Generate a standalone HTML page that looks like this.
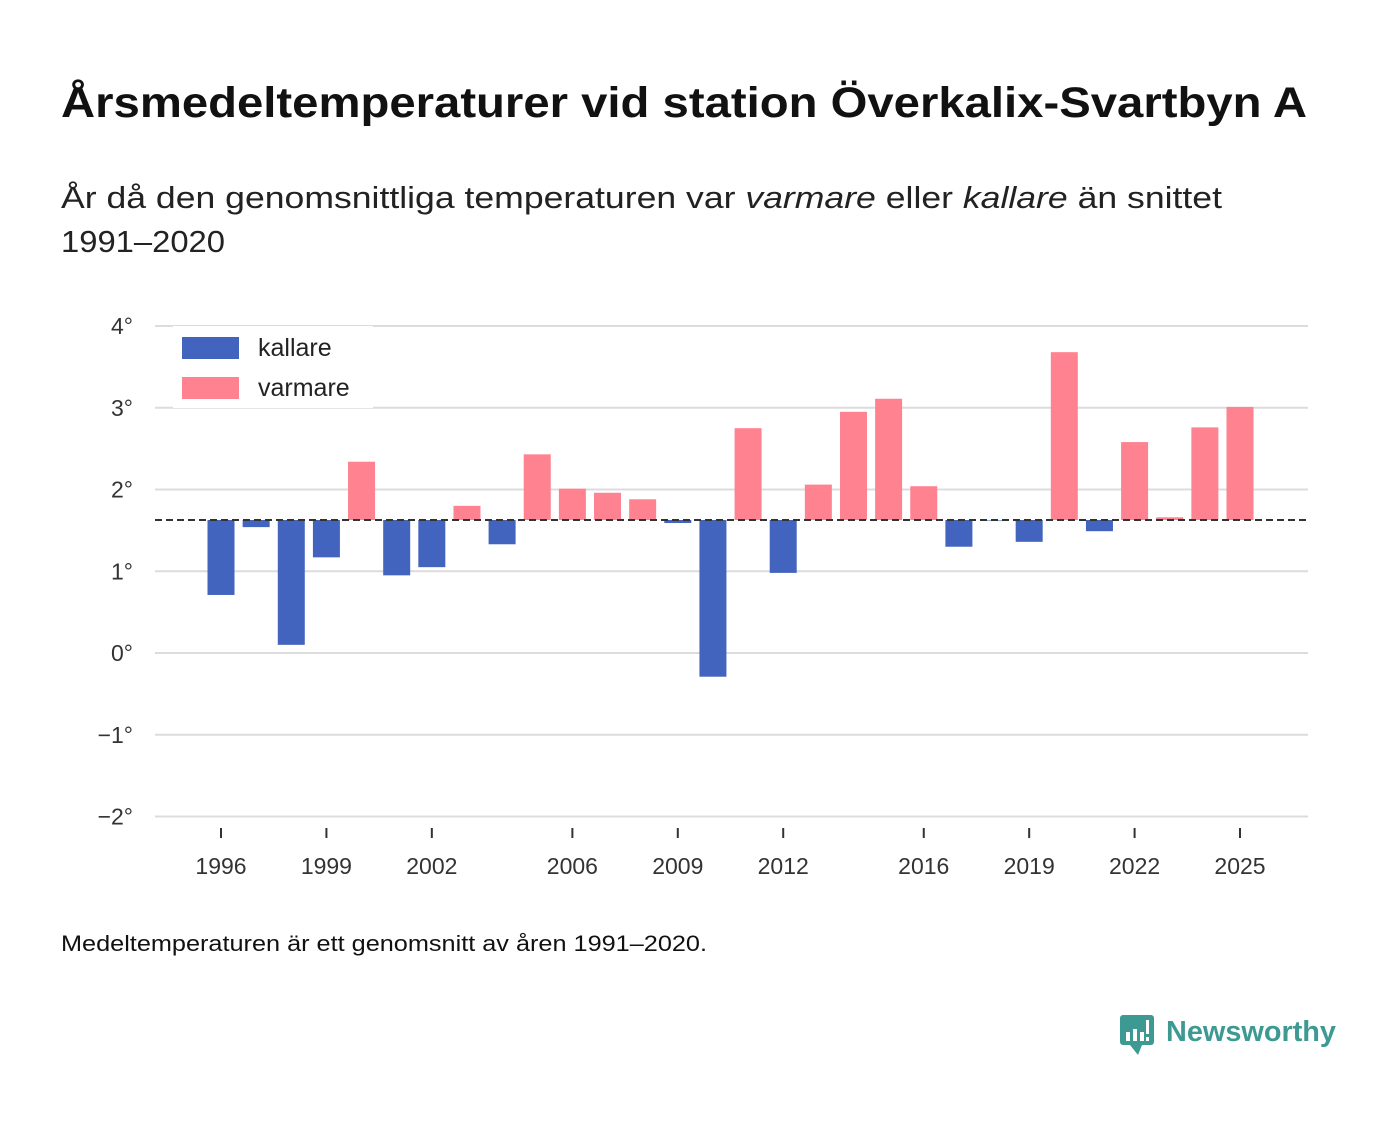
<!DOCTYPE html>
<html><head><meta charset="utf-8"><style>
body{margin:0;background:#fff;font-family:"Liberation Sans","DejaVu Sans",sans-serif;}
svg text{font-family:"Liberation Sans","DejaVu Sans",sans-serif;}
</style></head><body>
<svg id="chart" width="1400" height="1116" viewBox="0 0 1400 1116">
<text x="61" y="117" font-size="43" font-weight="bold" fill="#111" textLength="1246" lengthAdjust="spacingAndGlyphs">Årsmedeltemperaturer vid station Överkalix-Svartbyn A</text>
<text x="61" y="208" font-size="31" fill="#222" textLength="1161" lengthAdjust="spacingAndGlyphs">År då den genomsnittliga temperaturen var <tspan font-style="italic">varmare</tspan> eller <tspan font-style="italic">kallare</tspan> än snittet</text>
<text x="61" y="252" font-size="31" fill="#222" textLength="164" lengthAdjust="spacingAndGlyphs">1991–2020</text>
<g id="grid"></g><g id="bars"></g><g id="axes"></g>
<g>
<rect x="173" y="326" width="200" height="82" fill="#fff"/>
<rect x="182" y="337" width="57" height="22" fill="#4263be"/>
<text x="258" y="356" font-size="25" fill="#222">kallare</text>
<rect x="182" y="377" width="57" height="22" fill="#ff8291"/>
<text x="258" y="396" font-size="25" fill="#222">varmare</text>
</g>
<text x="61" y="951" font-size="22" fill="#111" textLength="646" lengthAdjust="spacingAndGlyphs">Medeltemperaturen är ett genomsnitt av åren 1991–2020.</text>
<g>
<rect x="1120" y="1015" width="34" height="30" rx="3" fill="#3d9a92"/>
<path d="M1130 1045 L1138 1055 L1142 1045 Z" fill="#3d9a92"/>
<rect x="1126" y="1032" width="4" height="9" fill="#fff"/><rect x="1133" y="1029" width="4" height="12" fill="#fff"/><rect x="1140" y="1032" width="4" height="9" fill="#fff"/><rect x="1146" y="1020" width="3" height="14" fill="#fff"/><rect x="1146" y="1037" width="3" height="4" fill="#fff"/>
<text x="1166" y="1041" font-size="29" font-weight="bold" fill="#3d9a92" textLength="170" lengthAdjust="spacingAndGlyphs">Newsworthy</text>
</g>
</svg>
<script>
const years=[1996,1997,1998,1999,2000,2001,2002,2003,2004,2005,2006,2007,2008,2009,2010,2011,2012,2013,2014,2015,2016,2017,2018,2019,2020,2021,2022,2023,2024,2025];
const temps=[0.71,1.54,0.10,1.17,2.34,0.95,1.05,1.80,1.33,2.43,2.01,1.96,1.88,1.59,-0.29,2.75,0.98,2.06,2.95,3.11,2.04,1.30,1.62,1.36,3.68,1.49,2.58,1.66,2.76,3.01];
const baseline=1.627;
const yTicks=[4,3,2,1,0,-1,-2];
const yTickLabels=["4°","3°","2°","1°","0°","−1°","−2°"];
const xTickYears=[1996,1999,2002,2006,2009,2012,2016,2019,2022,2025];
const NS="http://www.w3.org/2000/svg";
const y=v=>653-v*81.75;
const x=yr=>221+(yr-1996)*35.138;
function mk(t,a,p){const e=document.createElementNS(NS,t);for(const k in a)e.setAttribute(k,a[k]);p.appendChild(e);return e;}
const grid=document.getElementById('grid'),bars=document.getElementById('bars'),axes=document.getElementById('axes');
yTicks.forEach((v,i)=>{
 const l=mk('line',{x1:155,x2:1308,y1:y(v),y2:y(v),stroke:'#dcdcdc','stroke-width':2},grid);
 
 
 const t=mk('text',{x:133,y:y(v)+8,'font-size':23,fill:'#333','text-anchor':'end'},axes);
 t.textContent=yTickLabels[i];
 
 
});
years.forEach((yr,i)=>{
 const v=temps[i];const top=Math.min(y(v),y(baseline)),h=Math.abs(y(v)-y(baseline));
 const r=mk('rect',{x:x(yr)-13.5,y:top,width:27,height:Math.max(h,0.5),fill:v<baseline?'#4263be':'#ff8291'},bars);
 
 
});
const b=mk('line',{x1:155,x2:1308,y1:y(baseline),y2:y(baseline),stroke:'#333','stroke-width':2,'stroke-dasharray':'7,4'},axes);


xTickYears.forEach(yr=>{
 const tk=mk('line',{x1:x(yr),x2:x(yr),y1:828,y2:838,stroke:'#333','stroke-width':2},axes);
 
 
 const t=mk('text',{x:x(yr),y:874,'font-size':23,fill:'#333','text-anchor':'middle'},axes);
 t.textContent=yr;
 
 
});
</script>
</body></html>
